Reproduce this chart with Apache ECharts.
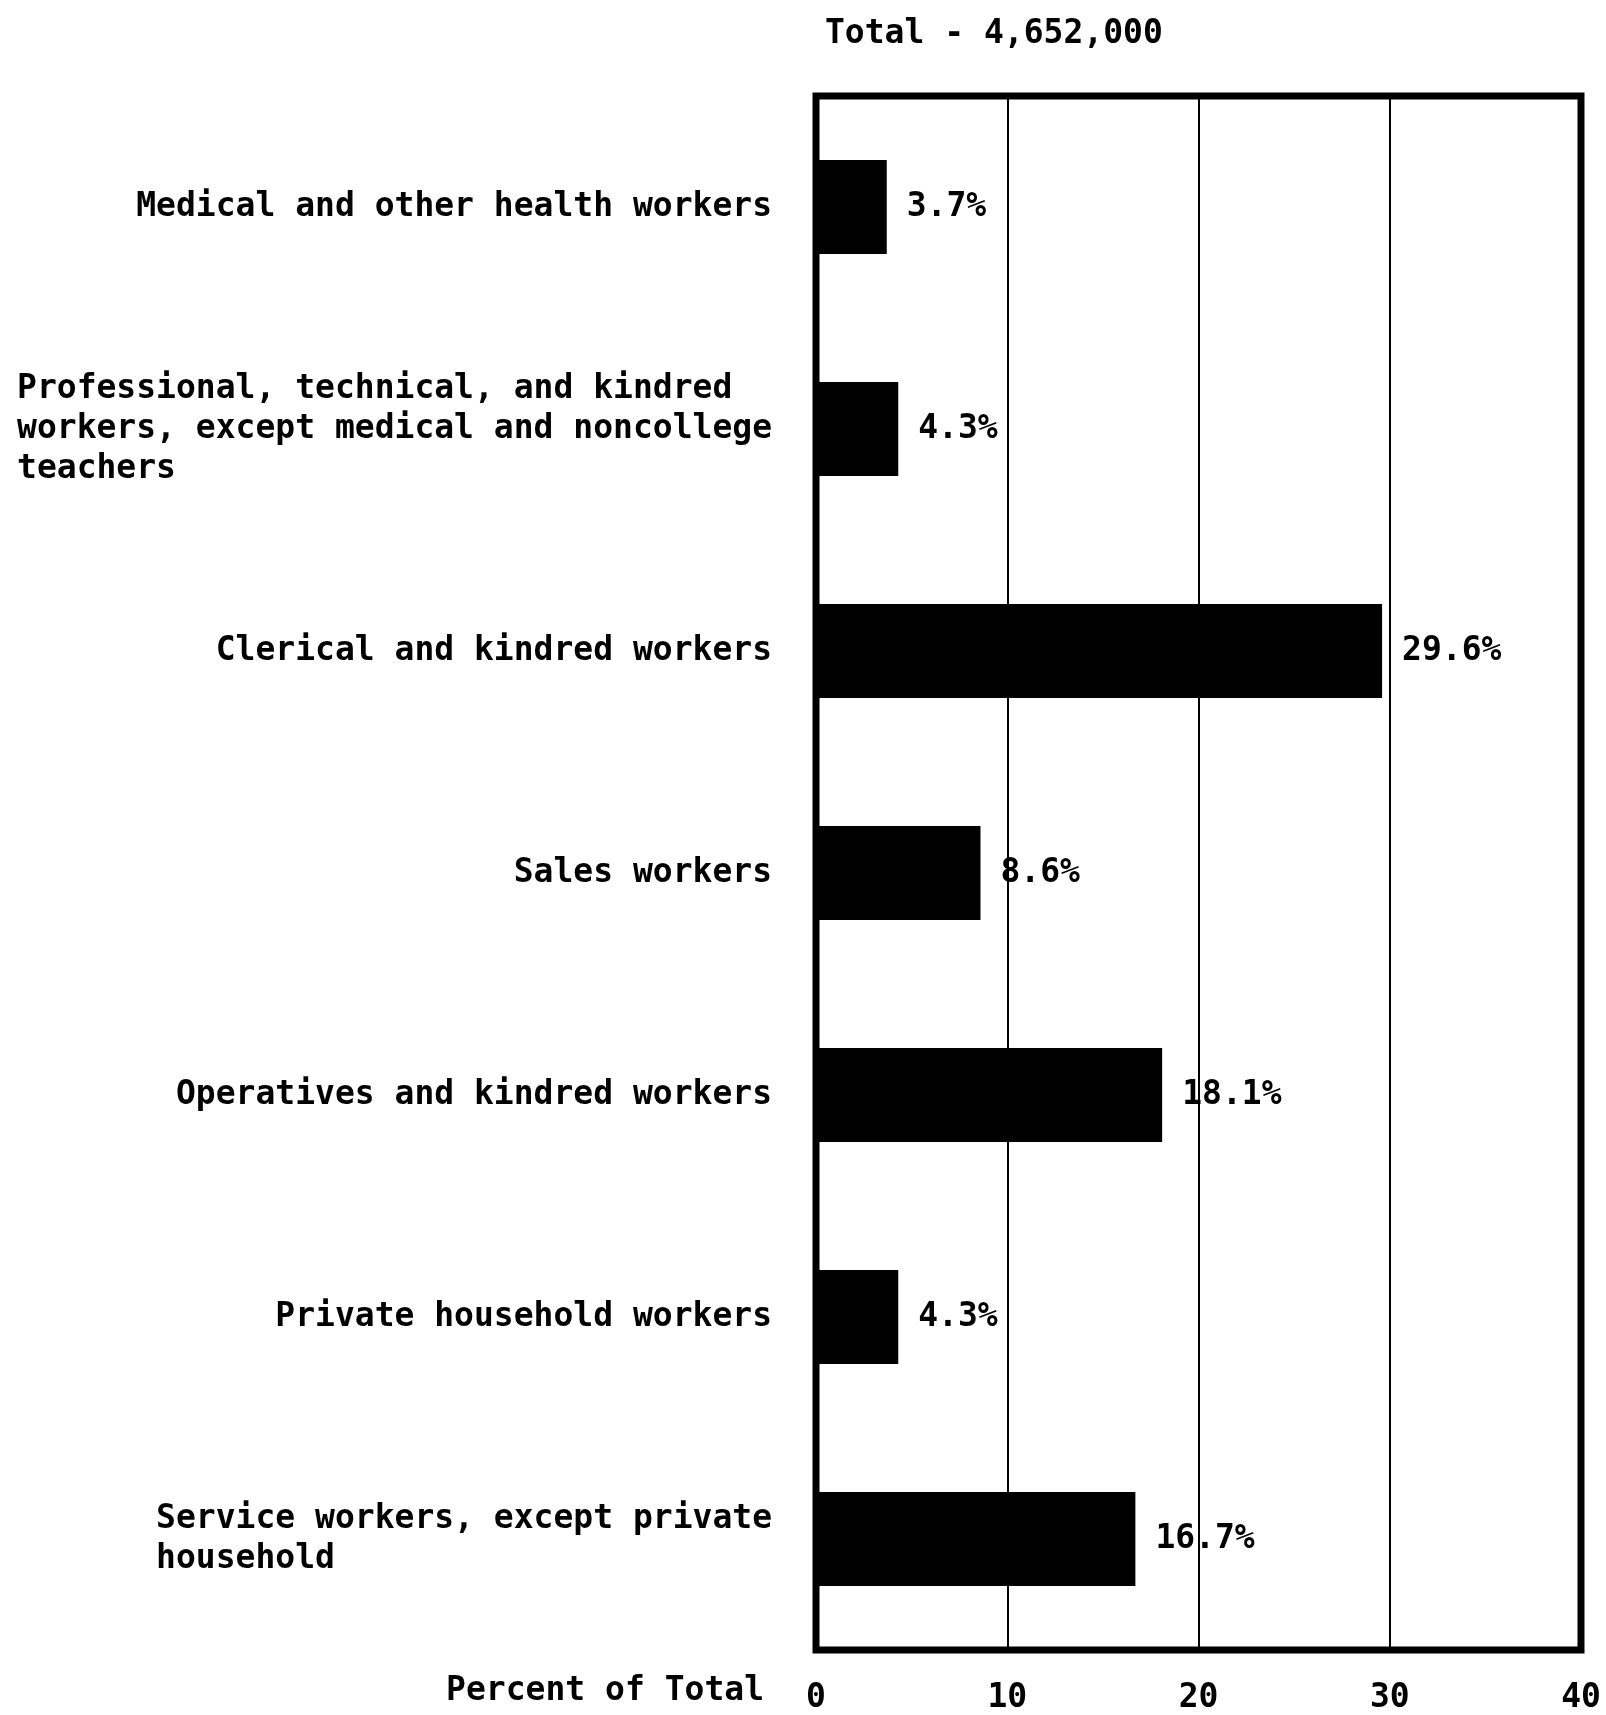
<!DOCTYPE html>
<html>
<head>
<meta charset="utf-8">
<script src="https://cdn.jsdelivr.net/npm/echarts@6/dist/echarts.min.js"></script>
<style>
  html, body { margin: 0; padding: 0; background: #fff; }
  #chart { width: 1606px; height: 1715px; }
</style>
</head>
<body>
<div id="chart"></div>
<script>
// Occupational distribution, percent of total employed
const titleText = 'Total - 4,652,000';
const axisTitle = 'Percent of Total';
const categories = [
  'Medical and other health workers',
  'Professional, technical, and kindred\nworkers, except medical and noncollege\nteachers',
  'Clerical and kindred workers',
  'Sales workers',
  'Operatives and kindred workers',
  'Private household workers',
  'Service workers, except private\nhousehold'
];
const percents = [3.7, 4.3, 29.6, 8.6, 18.1, 4.3, 16.7];
const tickMin = 0;
const tickMax = 40;
const tickStep = 10;

const FONT = '"DejaVu Sans Mono", "Liberation Mono", monospace';
const WEIGHT = 'bold';

// Pad every line of a wrapped label to the longest line so the block
// stays left-aligned while its right edge sits against the frame.
function padBlock(text) {
  const lines = text.split('\n');
  const w = Math.max(...lines.map(l => l.length));
  return lines.map(l => l + ' '.repeat(w - l.length)).join('\n');
}

const chart = echarts.init(document.getElementById('chart'), null, { renderer: 'canvas' });

chart.setOption({
  backgroundColor: '#ffffff',
  animation: false,
  title: {
    text: titleText,
    left: 820,
    top: 13,
    textStyle: { fontFamily: FONT, fontSize: 33, fontWeight: WEIGHT, color: '#000' }
  },
  graphic: [{
    type: 'text',
    right: 1606 - 764,
    top: 1675,
    style: { text: axisTitle, font: WEIGHT + ' 33px ' + FONT, fill: '#000' }
  }],
  grid: {
    left: 816,
    right: 25,
    top: 96,
    bottom: 63,
    show: true,
    borderColor: '#000',
    borderWidth: 7,
    backgroundColor: 'transparent'
  },
  xAxis: {
    type: 'value',
    min: tickMin,
    max: tickMax,
    interval: tickStep,
    axisLine: { show: false },
    axisTick: { show: false },
    splitLine: { show: true, lineStyle: { color: '#000', width: 2 } },
    axisLabel: {
      margin: 32,
      fontFamily: FONT,
      fontSize: 33,
      fontWeight: WEIGHT,
      color: '#000'
    }
  },
  yAxis: {
    type: 'category',
    inverse: true,
    data: categories,
    axisLine: { show: false },
    axisTick: { show: false },
    splitLine: { show: false },
    axisLabel: {
      margin: 44,
      fontFamily: FONT,
      fontSize: 33,
      fontWeight: WEIGHT,
      lineHeight: 40,
      color: '#000',
      align: 'right',
      formatter: v => padBlock(v)
    }
  },
  series: [{
    type: 'bar',
    data: percents,
    barWidth: 94,
    itemStyle: { color: '#000' },
    label: {
      show: true,
      position: 'right',
      distance: 20,
      fontFamily: FONT,
      fontSize: 33,
      fontWeight: WEIGHT,
      color: '#000',
      formatter: p => p.value + '%'
    },
    z: 3
  }]
});
</script>
</body>
</html>
